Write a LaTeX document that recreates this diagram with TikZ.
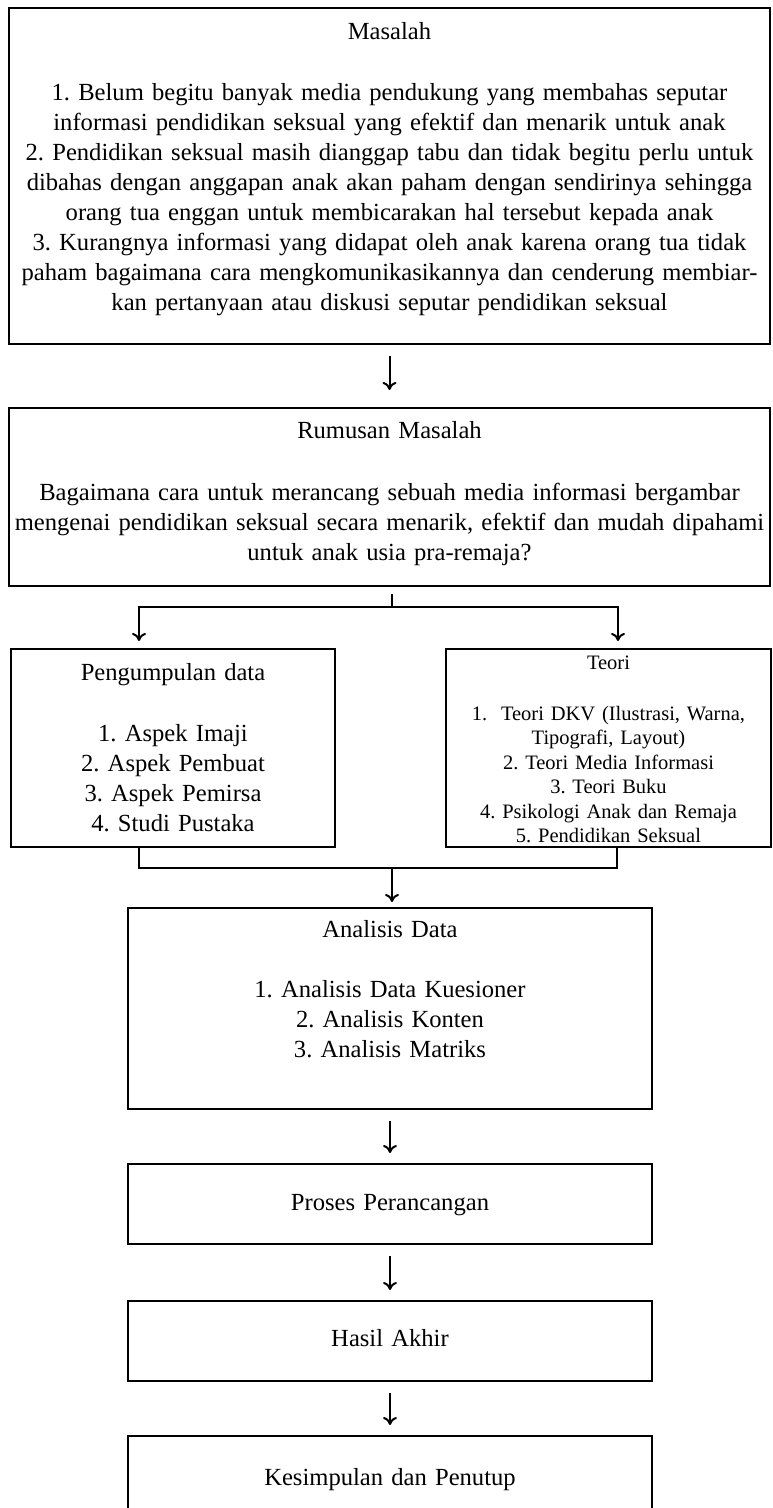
\documentclass[tikz,border=0pt]{standalone}
\usepackage{fontspec}
\setmainfont{Liberation Serif}
\usetikzlibrary{arrows.meta}
\frenchspacing

\tikzset{
  box/.style={draw, line width=1pt, inner xsep=0pt, inner ysep=0pt, align=center, anchor=north,
    font=\fontsize{12.3}{15}\selectfont},
  small/.style={font=\fontsize{10.25}{12.25}\selectfont},
  line/.style={line width=1pt},
  arr/.style={line width=1pt, -{Computer Modern Rightarrow[length=4pt, width=7pt]}},
}

\begin{document}
\begin{tikzpicture}[x=0.5pt, y=-0.5pt]
  \useasboundingbox (0,0) rectangle (772,1508);

  % Masalah
  \node[box, text width=380.5pt, text height=16pt, text depth=152pt] (masalah) at (389.5,7)
    {Masalah\\[15.5pt]
     1. Belum begitu banyak media pendukung yang membahas seputar\\
     informasi pendidikan seksual yang efektif dan menarik untuk anak\\
     2. Pendidikan seksual masih dianggap tabu dan tidak begitu perlu untuk\\
     dibahas dengan anggapan anak akan paham dengan sendirinya sehingga\\
     orang tua enggan untuk membicarakan hal tersebut kepada anak\\
     3. Kurangnya informasi yang didapat oleh anak karena orang tua tidak\\
     paham bagaimana cara mengkomunikasikannya dan cenderung membiar-\\
     kan pertanyaan atau diskusi seputar pendidikan seksual};

  % Rumusan masalah
  \node[box, text width=380.5pt, text height=15pt, text depth=74pt] (rumusan) at (389.5,407)
    {Rumusan Masalah\\[16pt]
     Bagaimana cara untuk merancang sebuah media informasi bergambar\\
     mengenai pendidikan seksual secara menarik, efektif dan mudah dipahami\\
     untuk anak usia pra-remaja?};

  % Pengumpulan data dan teori
  \node[box, text width=162pt, text height=15.5pt, text depth=83.5pt] (pengumpulan) at (173,648)
    {Pengumpulan data\\[15.5pt]
     1. Aspek Imaji\\
     2. Aspek Pembuat\\
     3. Aspek Pemirsa\\
     4. Studi Pustaka};
  \node[box, small, text width=162.5pt, text height=10pt, text depth=89pt] (teori) at (608.5,648)
    {Teori\\[13.25pt]
     1.\ \ Teori DKV (Ilustrasi, Warna,\\
     Tipografi, Layout)\\
     2. Teori Media Informasi\\
     3. Teori Buku\\
     4. Psikologi Anak dan Remaja\\
     5. Pendidikan Seksual};

  % Analisis sampai kesimpulan
  \node[box, text width=262pt, text height=14.5pt, text depth=86pt] (analisis) at (390,907)
    {Analisis Data\\[15pt]
     1. Analisis Data Kuesioner\\
     2. Analisis Konten\\
     3. Analisis Matriks};
  \node[box, text width=262pt, text height=23pt, text depth=17pt] (proses) at (390,1163)
    {Proses Perancangan};
  \node[box, text width=262pt, text height=22.5pt, text depth=17.5pt] (hasil) at (390,1300)
    {Hasil Akhir};
  \node[box, text width=262pt, text height=24.5pt, text depth=40pt] (kesimpulan) at (390,1435)
    {Kesimpulan dan Penutup};

  % Connectors
  \coordinate (split) at (392,607);
  \coordinate (toPeng) at (139,641);
  \coordinate (toTeori) at (618,641);
  \coordinate (joinL) at (139,868);
  \coordinate (joinR) at (617,868);
  \coordinate (join) at (392,868);

  \draw[arr, shorten <=5.5pt, shorten >=8.5pt] (masalah) -- (rumusan);
  \draw[line] ([yshift=-3.5pt]rumusan.south -| split) -- (split);
  \draw[arr] (split) -| (toPeng);
  \draw[arr] (split) -| (toTeori);
  \draw[line] (pengumpulan.south -| joinL) -- (joinL) -- (joinR) -- (teori.south -| joinR);
  \draw[arr, shorten >=2.5pt] (join) -- (join |- analisis.north);
  \draw[arr, shorten <=5.5pt, shorten >=5pt] (analisis) -- (proses);
  \draw[arr, shorten <=5.5pt, shorten >=5pt] (proses) -- (hasil);
  \draw[arr, shorten <=5.5pt, shorten >=5pt] (hasil) -- (kesimpulan);
\end{tikzpicture}
\end{document}
